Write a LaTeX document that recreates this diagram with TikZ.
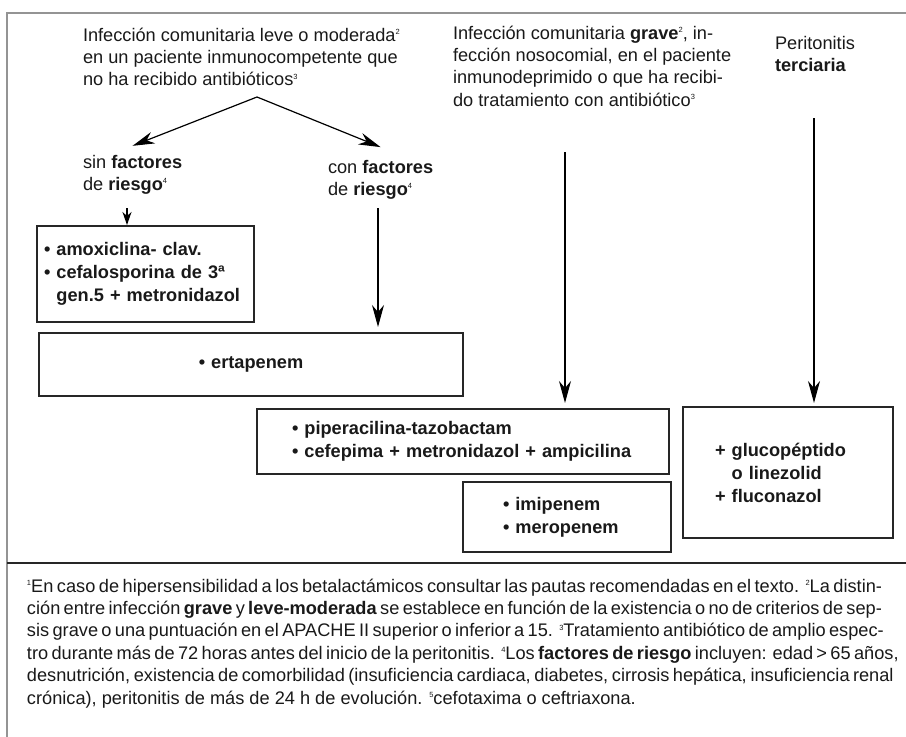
\documentclass[tikz,border=0pt]{standalone}
\usepackage{fontspec}
\setmainfont{Liberation Sans}
\usetikzlibrary{calc, positioning, arrows.meta}

% small raised note numbers
\newcommand{\sups}[1]{\raisebox{6.5pt}{\fontsize{7.5}{7.5}\selectfont #1}}

\begin{document}
\begin{tikzpicture}[x=1pt, y=-1pt,
  every node/.style={inner sep=0, outer sep=0, text=black!90, font=\fontsize{18.2}{22.4}\selectfont},
  lbl/.style={align=left, anchor=base west},
  drug/.style={draw=black!85, line width=1.3pt, anchor=north west, align=left, font=\fontsize{18.2}{23}\selectfont\bfseries},
  arr/.style={-{Stealth[length=22pt, width=12pt, inset=7pt]}, line width=1.2pt},
  smallarr/.style={-{Stealth[length=13pt, width=9pt, inset=4pt]}, line width=1.2pt}
]
  \useasboundingbox (0,0) rectangle (906,737);

  % Frame
  \draw[black!42, line width=2.2pt] (906,13) -- (7,13) -- (7,737);

  % Starting situations (placed at the last baseline)
  \node[lbl] (leve) at (83,85.8) {Infección comunitaria leve o moderada\sups{2}\\en un paciente inmunocompetente que\\no ha recibido antibióticos\sups{3}};
  \node[lbl] (grave) at (453,106.2) {Infección comunitaria \textbf{grave}\sups{2}, in-\\fección nosocomial, en el paciente\\inmunodeprimido o que ha recibi-\\do tratamiento con antibiótico\sups{3}};
  \node[lbl] (peri) at (775,71.4) {Peritonitis\\\textbf{terciaria}};

  % Risk factors
  \node[lbl] (sinlbl) at (83,190.4) {sin \textbf{factores}\\de \textbf{riesgo}\sups{4}};
  \node[lbl] (conlbl) at (328,195.4) {con \textbf{factores}\\de \textbf{riesgo}\sups{4}};

  % Treatments
  \node[drug, text width=203pt, inner xsep=7pt, minimum height=96pt] (box1) at (37,226)
    {• amoxiclina- clav.\\• cefalosporina de 3ª\\\phantom{• }gen.5 + metronidazol};
  \node[drug, text width=404pt, inner xsep=10pt, minimum height=63pt, align=center] (box2) at (39,333)
    {• ertapenem};
  \node[drug, text width=342pt, inner xsep=35pt, minimum height=65pt] (box3) at (257,409)
    {• piperacilina-tazobactam\\• cefepima + metronidazol + ampicilina};
  \node[drug, text width=128pt, inner xsep=40pt, minimum height=70pt] (box4) at (463,482)
    {• imipenem\\• meropenem};
  \node[drug, text width=146pt, inner xsep=32pt, minimum height=131pt] (box5) at (683,407)
    {+ glucopéptido\\\phantom{+ }o linezolid\\+ fluconazol};

  % Fork
  \coordinate (fork) at (257,97);
  \draw[arr] (fork) -- ([yshift=9pt]sinlbl.north);
  \draw[arr] (fork) -- ([yshift=12.7pt]conlbl.north);

  % Vertical arrows
  \coordinate (sinfrom) at (127,208);
  \coordinate (confrom) at (378,208);
  \coordinate (midfrom) at (565,152);
  \coordinate (perifrom) at (814,118);
  \draw[smallarr, shorten >=1pt] (sinfrom) -- (sinfrom |- box1.north);
  \foreach \from/\to/\gap in {confrom/box2/6, midfrom/box3/6, perifrom/box5/4}
    \draw[arr, shorten >=\gap pt] (\from) -- (\from |- \to.north);

  % Notes
  \draw[black!85, line width=1.5pt] (7,563) -- (906,563);
  \node[lbl] (notes) at (27,704) {%
    \makebox[855pt][s]{\sups{1}En caso de hipersensibilidad a los betalactámicos consultar las pautas recomendadas en el texto. \sups{2}La distin-}\\
    \makebox[855pt][s]{ción entre infección \textbf{grave} y \textbf{leve-moderada} se establece en función de la existencia o no de criterios de sep-}\\
    \makebox[855pt][s]{sis grave o una puntuación en el APACHE II superior o inferior a 15. \sups{3}Tratamiento antibiótico de amplio espec-}\\
    \makebox[855pt][s]{tro durante más de 72 horas antes del inicio de la peritonitis. \sups{4}Los \textbf{factores de riesgo} incluyen: edad > 65 años,}\\
    \makebox[855pt][s]{desnutrición, existencia de comorbilidad (insuficiencia cardiaca, diabetes, cirrosis hepática, insuficiencia renal}\\
    crónica), peritonitis de más de 24 h de evolución. \sups{5}cefotaxima o ceftriaxona.};
\end{tikzpicture}
\end{document}
